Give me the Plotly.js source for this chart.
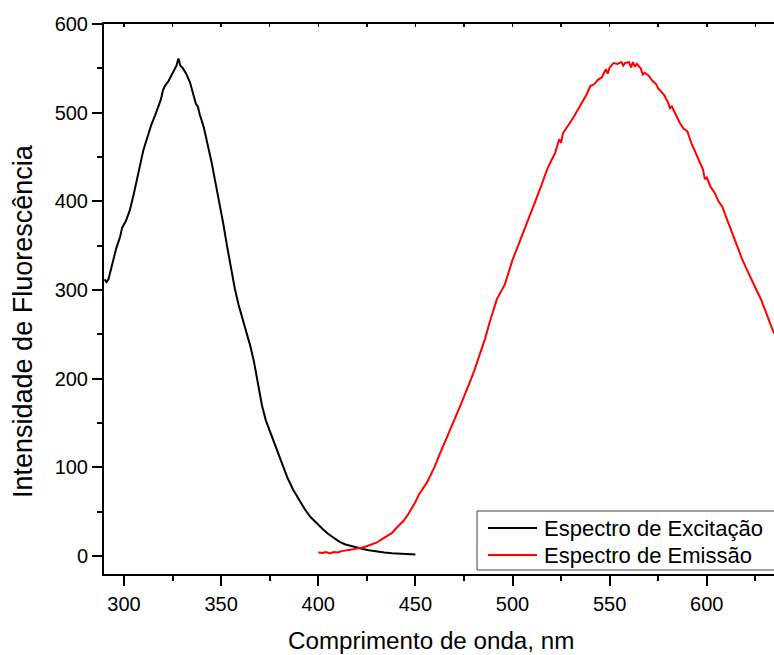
<!DOCTYPE html>
<html>
<head>
<meta charset="utf-8">
<script src="https://cdn.plot.ly/plotly-3.0.1.min.js"></script>
<style>
  html, body { margin: 0; padding: 0; background: #fff; }
  #chart { width: 774px; height: 655px; }
</style>
</head>
<body>
<div id="chart"></div>
<script>
// Excitation spectrum (nm, intensity)
const excWavelength = [290, 291, 292, 294, 296, 298, 299, 301, 303, 305, 307, 309, 310, 312, 314, 316, 317, 319, 320, 321, 323, 324, 326, 327, 328, 329, 330, 332, 334, 336, 337, 338, 339, 341, 343, 345, 347, 349, 351, 353, 355, 357, 359, 361, 363, 365, 367, 369, 371, 373, 375, 377, 379, 381, 384, 387, 390, 393, 396, 399, 402, 405, 408, 411, 414, 417, 420, 423, 426, 430, 434, 438, 442, 446, 450];
const excIntensity = [312, 309, 312, 330, 347, 360, 370, 378, 390, 408, 428, 448, 458, 472, 486, 497, 503, 515, 525, 530, 536, 540, 548, 553, 561, 553, 551, 544, 534, 518, 510, 507, 498, 484, 466, 445, 422, 400, 376, 350, 325, 302, 283, 268, 254, 237, 218, 195, 170, 153, 141, 131, 119, 106, 89, 75, 64, 53, 44, 37, 31, 25, 20, 16, 13, 11, 9, 7.8, 6.5, 5, 4, 3.2, 2.5, 2, 1.8];

// Emission spectrum (nm, intensity)
const emiWavelength = [400, 402, 404, 406, 408, 410, 412, 414, 416, 418, 420, 422, 424, 426, 428, 430, 432, 434, 436, 438, 440, 442, 444, 446, 448, 450, 452, 454, 456, 458, 460, 462, 464, 466, 468, 470, 472, 474, 476, 478, 480, 482, 484, 486, 488, 490, 492, 494, 496, 498, 500, 502, 504, 506, 508, 510, 512, 514, 516, 518, 520, 522, 524, 525, 526, 528, 530, 532, 534, 536, 538, 540, 542, 544, 546, 548, 549, 550, 552, 554, 556, 557, 558, 560, 561, 562, 563, 564, 566, 567, 568, 570, 572, 574, 575, 576, 578, 580, 581, 582, 584, 586, 588, 590, 592, 594, 596, 598, 599, 600, 602, 604, 606, 608, 610, 612, 614, 616, 618, 620, 622, 624, 626, 628, 630, 632, 634.6];
const emiIntensity = [4, 3.5, 4.5, 3, 4.5, 4, 5.5, 6, 7, 7.5, 8.5, 9, 10.5, 12, 13, 15, 18, 20.5, 23, 26, 31, 35, 40, 46, 53, 61, 70, 76, 83, 92, 101, 112, 122, 132, 142, 152, 164, 174, 185, 195, 207, 220, 233, 246, 262, 275, 290, 298, 306, 320, 334, 345, 356, 368, 380, 390, 400, 413, 425, 437, 446, 455, 470, 466, 477, 483, 490, 497, 505, 513, 520, 530, 532, 537, 540, 549, 544, 551, 556, 555, 557, 553, 556, 557, 551, 557, 552, 555, 550, 543, 545, 542, 536, 532, 527, 525, 520, 512, 505, 507, 497, 489, 482, 479, 466, 456, 448, 436, 425, 427, 416, 410, 400, 394, 382, 370, 358, 348, 336, 326, 316, 306, 298, 289, 277, 266, 251];

const seriesNames = ['Espectro de Excitação', 'Espectro de Emissão'];
const seriesColors = ['#000000', '#ff0000'];
const xTitle = 'Comprimento de onda, nm';
const yTitle = 'Intensidade de Fluorescência';

const FONT = 'Arial, "Liberation Sans", sans-serif';
const X_RANGE = [289.7, 634.6];
const Y_RANGE = [-20.3, 600];

// plot area in pixels, used to place the titles and the legend box
const W = 774, H = 655;
const M = { l: 104, r: 0, t: 24, b: 81 };
const PW = W - M.l - M.r, PH = H - M.t - M.b;
const px = x => (x - M.l) / PW;           // page x -> paper x
const py = y => (H - M.b - y) / PH;       // page y -> paper y

const traces = [
  {
    x: excWavelength, y: excIntensity, name: seriesNames[0],
    type: 'scatter', mode: 'lines',
    line: { color: seriesColors[0], width: 2 }
  },
  {
    x: emiWavelength, y: emiIntensity, name: seriesNames[1],
    type: 'scatter', mode: 'lines',
    line: { color: seriesColors[1], width: 2 }
  },
  // empty trace that carries the top frame axis
  {
    x: X_RANGE, y: Y_RANGE, xaxis: 'x2', yaxis: 'y',
    type: 'scatter', mode: 'none', showlegend: false, hoverinfo: 'skip'
  }
];

// legend: framed box with a line sample and label per series
const legendRows = [528, 555];
const shapes = [
  {
    type: 'rect', xref: 'paper', yref: 'paper',
    x0: px(477), x1: px(790), y0: py(570), y1: py(511),
    line: { color: '#444444', width: 1 }, fillcolor: '#ffffff', layer: 'above'
  }
];
const annotations = [];
seriesNames.forEach((name, i) => {
  shapes.push({
    type: 'line', xref: 'paper', yref: 'paper',
    x0: px(488), x1: px(537), y0: py(legendRows[i]), y1: py(legendRows[i]),
    line: { color: seriesColors[i], width: 2 }, layer: 'above'
  });
  annotations.push({
    xref: 'paper', yref: 'paper', x: px(542), y: py(legendRows[i]),
    xanchor: 'left', yanchor: 'middle', showarrow: false,
    text: name, font: { family: FONT, size: 22, color: '#000000' }
  });
});

// axis titles
annotations.push({
  xref: 'paper', yref: 'paper', x: px(431), y: py(640),
  xanchor: 'center', yanchor: 'middle', showarrow: false,
  text: xTitle, font: { family: FONT, size: 24.2, color: '#000000' }
});
annotations.push({
  xref: 'paper', yref: 'paper', x: px(23), y: py(321),
  xanchor: 'center', yanchor: 'middle', showarrow: false, textangle: -90,
  text: yTitle, font: { family: FONT, size: 27, color: '#000000' }
});

const layout = {
  width: W, height: H,
  margin: { l: M.l, r: M.r, t: M.t, b: M.b, pad: 0 },
  paper_bgcolor: '#ffffff', plot_bgcolor: '#ffffff',
  font: { family: FONT, size: 20, color: '#000000' },
  showlegend: false,
  shapes: shapes,
  annotations: annotations,
  xaxis: {
    range: X_RANGE, autorange: false,
    showgrid: false, zeroline: false,
    showline: true, linecolor: '#000000', linewidth: 2,
    ticks: 'outside', ticklen: 10, tickwidth: 2, tickcolor: '#000000',
    tick0: 300, dtick: 50,
    minor: { ticks: 'outside', ticklen: 5, tickwidth: 2, tickcolor: '#000000', dtick: 25, tick0: 300, showgrid: false },
    ticklabelstandoff: 1,
    tickfont: { family: FONT, size: 20 },
    automargin: false
  },
  xaxis2: {
    overlaying: 'x', side: 'top', anchor: 'y',
    range: X_RANGE, autorange: false,
    showgrid: false, zeroline: false,
    showline: true, linecolor: '#000000', linewidth: 2,
    ticks: 'inside', ticklen: 3, tickwidth: 1.5, tickcolor: '#000000',
    tick0: 300, dtick: 25, showticklabels: false,
    automargin: false
  },
  yaxis: {
    range: Y_RANGE, autorange: false,
    showgrid: false, zeroline: false,
    showline: true, linecolor: '#000000', linewidth: 2,
    ticks: 'outside', ticklen: 10, tickwidth: 2, tickcolor: '#000000',
    tick0: 0, dtick: 100,
    minor: { ticks: 'outside', ticklen: 5, tickwidth: 2, tickcolor: '#000000', dtick: 50, tick0: 0, showgrid: false },
    ticklabelstandoff: 0,
    tickfont: { family: FONT, size: 20 },
    automargin: false
  }
};

Plotly.newPlot('chart', traces, layout, { staticPlot: true, displayModeBar: false });
</script>
</body>
</html>
